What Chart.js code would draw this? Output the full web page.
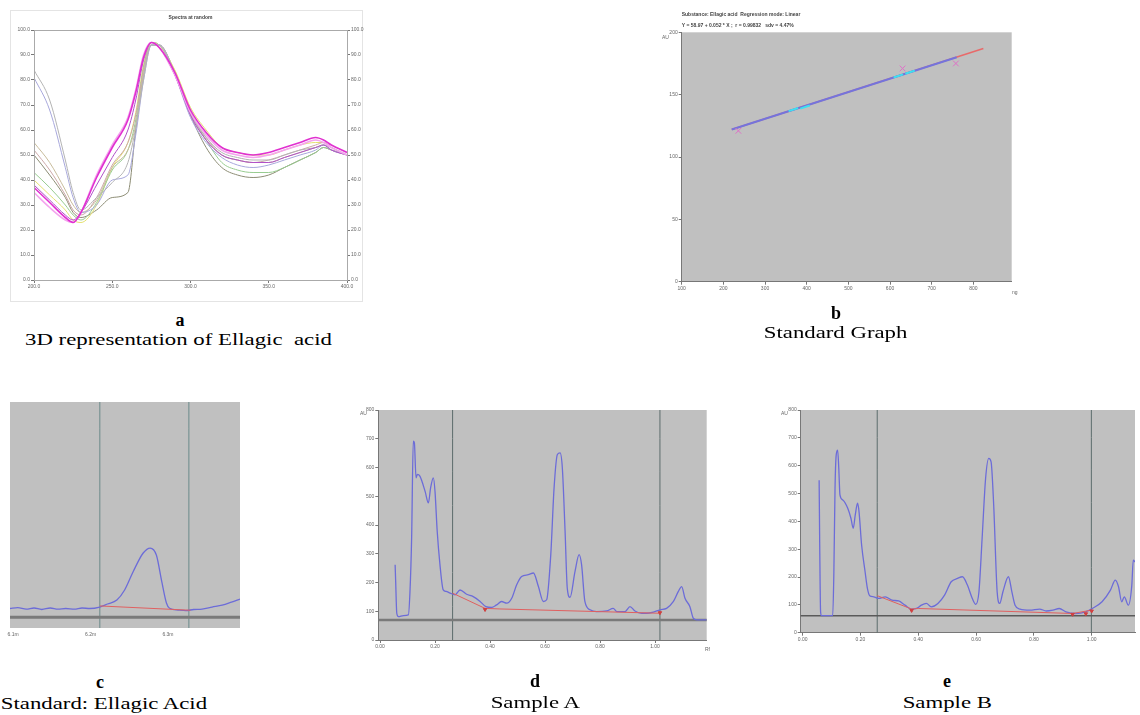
<!DOCTYPE html>
<html><head><meta charset="utf-8">
<script src="https://cdn.jsdelivr.net/npm/chart.js@4.4.1/dist/chart.umd.min.js"></script>
<style>
html,body{margin:0;padding:0;background:#fff;}
body{width:1140px;height:715px;position:relative;overflow:hidden;font-family:'Liberation Sans',Arial,sans-serif;}
.pane{position:absolute;}
canvas{display:block;}
.cap{position:absolute;width:400px;text-align:center;font-family:'Liberation Serif','Times New Roman',serif;color:#000;font-size:17px;line-height:20px;white-space:pre;}
.cap span{display:inline-block;transform:scaleX(1.34);}
.let{font-weight:bold;font-size:18px;}
.tiny{position:absolute;font-size:5px;line-height:6px;color:#666;font-family:'Liberation Sans',sans-serif;}
#frameA{position:absolute;left:10px;top:10px;width:351px;height:290px;border:1px solid #e4e4e4;}
</style></head>
<body>
<div id="frameA"></div>
<div class="pane" style="left:10px;top:10px;"><canvas id="ca" width="360" height="292"></canvas></div>
<div class="pane" style="left:660px;top:0px;"><canvas id="cb" width="360" height="300"></canvas></div>
<div class="pane" style="left:0px;top:400px;"><canvas id="cc" width="242" height="245"></canvas></div>
<div class="pane" style="left:340px;top:400px;"><canvas id="cd" width="380" height="255"></canvas></div>
<div class="pane" style="left:760px;top:400px;"><canvas id="ce" width="380" height="255"></canvas></div>

<div class="tiny" style="left:662px;top:34px;">AU</div>
<div class="tiny" style="left:1012px;top:289px;">ng</div>
<div class="tiny" style="left:360px;top:410px;">AU</div>
<div class="tiny" style="left:705px;top:646px;">Rf</div>
<div class="tiny" style="left:781px;top:410px;">AU</div>

<div class="cap let" style="left:-20px;top:310px;">a</div>
<div class="cap" style="left:-22px;top:330px;"><span>3D representation of Ellagic  acid</span></div>
<div class="cap let" style="left:636px;top:303px;">b</div>
<div class="cap" style="left:636px;top:323px;"><span>Standard Graph</span></div>
<div class="cap let" style="left:-100px;top:672px;">c</div>
<div class="cap" style="left:-96px;top:694px;"><span>Standard: Ellagic Acid</span></div>
<div class="cap let" style="left:335px;top:671px;">d</div>
<div class="cap" style="left:335px;top:693px;"><span>Sample A</span></div>
<div class="cap let" style="left:747px;top:671px;">e</div>
<div class="cap" style="left:747px;top:693px;"><span>Sample B</span></div>

<script>
// ---------------- DATA ----------------
// Panel a: overlaid UV spectra (wavelength nm vs relative absorbance)
const aWavelengths = [200,210,220,225,230,240,250,260,265,270,275,280,290,300,310,320,330,340,350,360,370,380,385,390,400];
const aMagenta = [37,31,25,23,27,41,53,64,75,89,95,93,83,68,59,53,51,50,51,53,55,57,56,54,51];
const aPink    = [35,29,24,23,27,42,54,65,76,90,95,93,82,67,58,52,50,49,50,52,54,56,55,53,50];
const aPurple  = [38,32,26,24,27,38,49,60,72,88,95,93,82,66,56,50,48,47,47,49,51,53,54,52,50];
const aGray    = [84,72,48,35,28,33,39,47,61,80,94,94,83,67,57,51,49,48,48,50,52,53,54,53,50];
const aLavender= [81,68,45,33,27,30,40,42,58,80,94,94,82,65,55,49,46,45,46,48,50,52,54,52,50];
const aKhaki   = [55,47,36,30,27,32,45,52,62,82,95,94,83,67,57,50,48,47,47,49,51,53,54,52,50];
const aRose    = [52,44,34,28,26,33,46,55,66,84,95,93,82,66,56,50,48,47,48,50,52,54,55,53,50];
const aGreen   = [43,37,30,26,24,31,44,52,64,85,95,94,83,67,56,47,44,43,43,45,48,51,53,52,50];
const aYellow  = [40,34,28,24,23,30,45,55,67,86,95,94,84,69,60,53,51,50,50,52,54,55,55,53,50];
const aOlive   = [50,42,33,27,25,28,33,35,60,82,94,94,83,66,53,45,42,41,42,45,48,51,53,52,50];
const aXTicks = [200,250,300,350,400];
const aYTicks = [0,10,20,30,40,50,60,70,80,90,100];

// Panel b: calibration (amount vs area)
const bRedLineX = [220, 824];
const bRedLineY = [122, 187];
const bBlueLineX = [220, 760];
const bBlueLineY = [122, 180];
const bCalX = [236, 630, 758];
const bCalY = [121, 171, 175];
const bCyanX = [368, 396, 620, 648];
const bCyanY = [138, 140, 165, 168];
const bXTicks = [100,200,300,400,500,600,700,800];
const bYTicks = [0,50,100,150,200];
const bTitle = ['Substance: Ellagic acid  Regression mode: Linear', 'Y = 58.97 + 0.052 * X ;  r = 0.99832   sdv = 4.47%'];

// Panel c: standard chromatogram
const cTime = [6.096,6.106,6.117,6.127,6.137,6.148,6.158,6.168,6.179,6.189,6.199,6.212,6.222,6.234,6.244,6.255,6.268,6.277,6.285,6.292,6.298,6.302,6.313,6.323,6.333,6.344,6.357,6.370,6.382,6.393];
const cSignal = [8.1,9.0,7.6,8.6,7.2,8.6,7.6,8.1,7.6,8.6,8.1,9.5,12.3,16,25.3,42.3,59.7,64.3,57.8,33,13.2,8.3,6.7,6.2,7.2,7.6,9.5,11.3,14.1,16.9];
const cBaseX = [6.212, 6.329];
const cBaseY = [10.5, 6.5];
const cMarks = [6.212, 6.327];
const cZero = 0;
const cXTicks = [6.1, 6.2, 6.3];

// Panel d: Sample A chromatogram
const dRf = [0.055,0.057,0.061,0.067,0.085,0.103,0.109,0.115,0.121,0.125,0.131,0.136,0.145,0.164,0.176,0.184,0.194,0.200,0.208,0.218,0.230,0.240,0.255,0.273,0.291,0.315,0.339,0.364,0.385,0.406,0.424,0.442,0.461,0.479,0.497,0.515,0.539,0.558,0.576,0.594,0.606,0.621,0.633,0.645,0.655,0.663,0.673,0.681,0.691,0.709,0.724,0.733,0.745,0.764,0.788,0.824,0.848,0.861,0.891,0.909,0.927,0.952,0.970,0.994,1.018,1.042,1.067,1.085,1.097,1.109,1.127,1.139,1.152,1.188];
const dSignal = [262,203,93,81,85,87,169,355,692,686,564,576,570,517,477,529,564,517,378,262,174,169,163,157,174,159,151,134,116,113,122,134,128,145,192,221,227,233,186,134,140,297,529,645,651,599,378,180,148,238,297,262,134,105,99,101,110,99,99,116,101,93,93,97,105,110,134,169,186,145,116,76,70,70];
const dBaseX = [0.264, 0.382, 0.436, 1.018];
const dBaseY = [163, 110, 108, 93];
const dBaseMarkX = [0.382, 1.018];
const dBaseMarkY = [106, 95];
const dMarks = [0.264, 1.018];
const dZero = 70;

// Panel e: Sample B chromatogram
const eRf = [0.057,0.059,0.062,0.065,0.082,0.104,0.108,0.112,0.116,0.121,0.125,0.129,0.139,0.156,0.167,0.175,0.182,0.190,0.195,0.204,0.216,0.224,0.232,0.246,0.263,0.286,0.309,0.332,0.354,0.377,0.394,0.411,0.428,0.445,0.468,0.491,0.514,0.536,0.553,0.570,0.587,0.599,0.610,0.621,0.633,0.644,0.652,0.661,0.673,0.682,0.693,0.712,0.724,0.735,0.752,0.786,0.820,0.843,0.866,0.888,0.911,0.945,0.979,1.002,1.036,1.065,1.082,1.093,1.104,1.113,1.127,1.139,1.144,1.150];
const eSignal = [548,315,75,61,61,61,219,519,638,656,590,495,477,447,411,375,423,465,435,315,219,159,133,129,123,129,117,114,99,85,87,99,105,93,105,135,183,195,201,171,123,102,147,339,554,626,614,459,147,105,147,201,147,99,85,81,85,78,81,87,75,69,75,87,111,153,189,165,111,129,99,171,261,254];
const eBaseX = [0.258, 0.377, 0.400, 0.934, 1.000];
const eBaseY = [133, 85, 87, 69, 81];
const eBaseMarkX = [0.377, 0.934, 0.980, 1.000];
const eBaseMarkY = [80, 66, 68, 78];
const eMarks = [0.258, 0.999];
const eZero = 61;

const rfTicks = [0, 0.2, 0.4, 0.6, 0.8, 1.0];
const chromYTicks = [0,100,200,300,400,500,600,700,800];

// ---------------- HELPERS ----------------
const plotBg = { id:'plotBg', beforeDraw(chart, args, opts){ if(!opts || !opts.color) return; const c=chart.ctx, a=chart.chartArea; c.save(); c.fillStyle=opts.color; c.fillRect(a.left,a.top,a.right-a.left,a.bottom-a.top); c.restore(); } };
const frame = { id:'frame', afterDraw(chart, args, opts){ if(!opts || !opts.color) return; const c=chart.ctx, a=chart.chartArea; c.save(); c.strokeStyle=opts.color; c.lineWidth=1; c.strokeRect(Math.round(a.left)+0.5,Math.round(a.top)+0.5,Math.round(a.right-a.left),Math.round(a.bottom-a.top)); c.restore(); } };
Chart.register(plotBg, frame);

function xy(xs, ys){ return xs.map((x,i)=>({x:x, y:ys[i]})); }
function vline(x){ return [{x:x,y:-5000},{x:x,y:5000}]; }
function hline(y){ return [{x:-5000,y:y},{x:5000,y:y}]; }

const tickFont = {size:5, family:"'Liberation Sans', Arial, sans-serif"};
function axis(opts){
  const ax = {
    type:'linear',
    min: opts.min, max: opts.max,
    display: opts.display !== false,
    position: opts.position,
    grid:{display: opts.gridTicks !== false, drawOnChartArea:false, tickLength:3, color:'#777'},
    border:{display: opts.border !== false, color:'#777', width:1},
    ticks:{font:tickFont, color:'#666', padding:1, maxRotation:0, autoSkip:false,
      callback: opts.fmt},
    afterBuildTicks: (s)=>{ s.ticks = opts.ticks.map(v=>({value:v})); },
    afterFit: (s)=>{ if(opts.w!==undefined) s.width = opts.w; if(opts.h!==undefined) s.height = opts.h; }
  };
  return ax;
}
function line(data, color, width, extra){
  return Object.assign({data:data, showLine:true, borderColor:color, backgroundColor:color, borderWidth:width, pointRadius:0, cubicInterpolationMode:'monotone', fill:false}, extra||{});
}
const common = {responsive:false, animation:false, devicePixelRatio:1, events:[],
  plugins:{legend:{display:false}, tooltip:{enabled:false}}};

// ---------------- PANEL A ----------------
const aColors = ['#e030d0','#f4a4ee','#b050c8','#b4b4b4','#a8a8dc','#c8bc9c','#cca8a8','#98cc90','#e4e070','#8c8c74'];
const aSeriesAll = [aMagenta,aPink,aPurple,aGray,aLavender,aKhaki,aRose,aGreen,aYellow,aOlive];
new Chart(document.getElementById('ca'), {
  type:'scatter',
  data:{datasets: aSeriesAll.map((s,i)=>line(xy(aWavelengths,s), aColors[i], i<2?1.6:1))},
  options:Object.assign({}, common, {
    layout:{padding:{left:0,right:0,top:0,bottom:0}},
    plugins:{legend:{display:false}, tooltip:{enabled:false},
      title:{display:true, text:'Spectra at random', fullSize:false, font:{size:5, family:"'Liberation Sans', Arial"}, color:'#444', padding:{top:5,bottom:9}},
      frame:{color:'#aaa'}},
    scales:{
      x: axis({min:200,max:400,ticks:aXTicks,h:22,fmt:v=>v.toFixed(1),position:'bottom'}),
      y: axis({min:0,max:100,ticks:aYTicks,w:24,fmt:v=>v.toFixed(1),position:'left'}),
      y2: axis({min:0,max:100,ticks:aYTicks,w:23,fmt:v=>v.toFixed(1),position:'right'})
    }
  })
});

// ---------------- PANEL B ----------------
new Chart(document.getElementById('cb'), {
  type:'scatter',
  data:{datasets:[
    {data:xy(bCyanX,bCyanY), pointStyle:'line', rotation:-18, pointRadius:5, borderColor:'#3ee0f0', borderWidth:2, showLine:false},
    {data:xy(bCalX,bCalY), pointStyle:'crossRot', pointRadius:4, borderColor:'#e070c8', borderWidth:1, showLine:false},
    line(xy(bBlueLineX,bBlueLineY), '#7474dc', 2, {cubicInterpolationMode:'default'}),
    line(xy(bRedLineX,bRedLineY), '#e86a6a', 1.6, {cubicInterpolationMode:'default'})
  ]},
  options:Object.assign({}, common, {
    layout:{padding:{left:0,right:8.3,top:0,bottom:0}},
    plugins:{legend:{display:false}, tooltip:{enabled:false},
      title:{display:true, text:bTitle, align:'start', fullSize:false, font:{size:5, family:"'Liberation Sans', Arial", lineHeight:2.2}, color:'#444', padding:{top:9.5,bottom:0.8}},
      plotBg:{color:'#c0c0c0'}},
    scales:{
      x: axis({min:100,max:892,ticks:bXTicks,h:18.3,fmt:v=>String(v),position:'bottom'}),
      y: axis({min:0,max:200,ticks:bYTicks,w:21.7,fmt:v=>String(v),position:'left'})
    }
  })
});

// ---------------- PANEL C ----------------
new Chart(document.getElementById('cc'), {
  type:'scatter',
  data:{datasets:[
    line(xy(cBaseX,cBaseY), '#e06060', 1, {cubicInterpolationMode:'default'}),
    line(xy(cTime,cSignal), '#6c6cd8', 1.3),
    line(hline(cZero), '#7a7a7a', 3),
    line(vline(cMarks[0]), '#6a8a8a', 1),
    line(vline(cMarks[1]), '#6a8a8a', 1)
  ]},
  options:Object.assign({}, common, {
    layout:{padding:{left:10,right:2,top:2,bottom:0}},
    plugins:{legend:{display:false}, tooltip:{enabled:false}, plotBg:{color:'#c0c0c0'}},
    scales:{
      x: axis({min:6.096,max:6.393,ticks:cXTicks,h:17,fmt:v=>v.toFixed(1)+'m',position:'bottom',border:false,gridTicks:false}),
      y: axis({min:-10,max:200,ticks:[0],display:false})
    }
  })
});

// ---------------- PANEL D ----------------
new Chart(document.getElementById('cd'), {
  type:'scatter',
  data:{datasets:[
    {data:xy(dBaseMarkX,dBaseMarkY), pointStyle:'triangle', rotation:180, pointRadius:2, backgroundColor:'#d04040', borderColor:'#d04040', showLine:false},
    line(xy(dBaseX,dBaseY), '#e06060', 1, {cubicInterpolationMode:'default'}),
    line(xy(dRf,dSignal), '#6c6cd8', 1.3),
    line(hline(dZero), '#7a7a7a', 2.5),
    line(vline(dMarks[0]), '#5c6c6c', 1),
    line(vline(dMarks[1]), '#5c6c6c', 1)
  ]},
  options:Object.assign({}, common, {
    layout:{padding:{left:0,right:13.3,top:10,bottom:0}},
    plugins:{legend:{display:false}, tooltip:{enabled:false}, plotBg:{color:'#c0c0c0'}},
    scales:{
      x: axis({min:-0.0062,max:1.188,ticks:rfTicks,h:15,fmt:v=>v.toFixed(2),position:'bottom'}),
      y: axis({min:0,max:800,ticks:chromYTicks,w:38.3,fmt:v=>String(v),position:'left'})
    }
  })
});

// ---------------- PANEL E ----------------
new Chart(document.getElementById('ce'), {
  type:'scatter',
  data:{datasets:[
    {data:xy(eBaseMarkX,eBaseMarkY), pointStyle:'triangle', rotation:180, pointRadius:2, backgroundColor:'#d04040', borderColor:'#d04040', showLine:false},
    line(xy(eBaseX,eBaseY), '#e06060', 1, {cubicInterpolationMode:'default'}),
    line(xy(eRf,eSignal), '#6c6cd8', 1.3),
    line(hline(eZero), '#5a5a5a', 1.5),
    line(vline(eMarks[0]), '#5c6c6c', 1),
    line(vline(eMarks[1]), '#5c6c6c', 1)
  ]},
  options:Object.assign({}, common, {
    layout:{padding:{left:0,right:0,top:10,bottom:0}},
    plugins:{legend:{display:false}, tooltip:{enabled:false}, plotBg:{color:'#c0c0c0'}},
    scales:{
      x: axis({min:-0.0068,max:1.15,ticks:rfTicks,h:22.3,fmt:v=>v.toFixed(2),position:'bottom'}),
      y: axis({min:0,max:800,ticks:chromYTicks,w:40.7,fmt:v=>String(v),position:'left'})
    }
  })
});
</script>
</body></html>
